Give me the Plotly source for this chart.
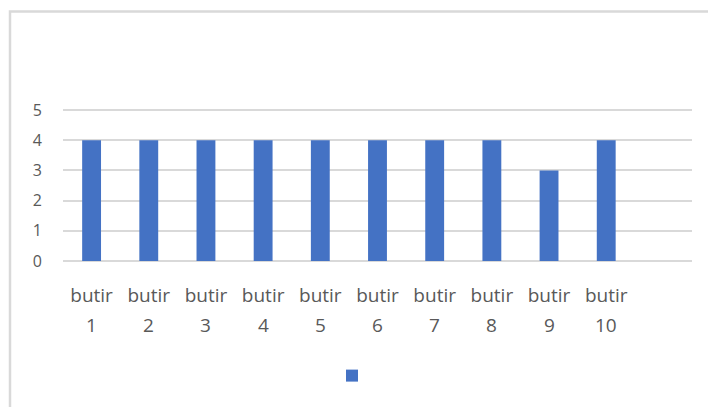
import plotly.graph_objects as go

# Item scores
categories = ["butir 1", "butir 2", "butir 3", "butir 4", "butir 5",
              "butir 6", "butir 7", "butir 8", "butir 9", "butir 10"]
scores = [4, 4, 4, 4, 4, 4, 4, 4, 3, 4]
y_ticks = [0, 1, 2, 3, 4, 5]

first_words = [c.split(" ")[0] for c in categories]
second_words = [c.split(" ")[1] for c in categories]

W, H = 708, 407
L, R, T, B = 63, 16, 108, 144
plot_w = W - L - R
plot_h = H - T - B

# small headroom so the top and bottom gridlines stay inside the plot area
pad = 2 / 30.2

def px_x(p):
    return (p - L) / plot_w

def px_y(p):
    return (H - B - p) / plot_h

text_color = "#595959"
grid_color = "#d9d9d9"
font_family = "Open Sans, Lato, DejaVu Sans, sans-serif"
label_size = 19

fig = go.Figure()
fig.add_trace(go.Bar(
    x=categories,
    y=scores,
    marker=dict(color="#4472C4", line=dict(width=0)),
    name="",
    showlegend=True,
    hoverinfo="skip",
))

# Second line of each category label, placed under the first line
for cat, word in zip(categories, second_words):
    fig.add_annotation(
        x=cat, xref="x",
        y=px_y(325), yref="paper",
        text=word,
        showarrow=False,
        xanchor="center", yanchor="middle",
        font=dict(size=label_size, color=text_color, family=font_family),
    )

fig.update_layout(
    width=W,
    height=H,
    margin=dict(l=L, r=R, t=T, b=B, autoexpand=False),
    paper_bgcolor="white",
    plot_bgcolor="white",
    bargap=0.67,
    font=dict(family=font_family, color=text_color),
    xaxis=dict(
        type="category",
        range=[-0.5, 10.5],
        tickmode="array",
        tickvals=categories,
        ticktext=first_words,
        tickfont=dict(size=label_size, color=text_color, family=font_family),
        ticklabelstandoff=19,
        showgrid=False,
        showline=False,
        ticks="",
        zeroline=False,
    ),
    yaxis=dict(
        range=[0 - pad, 5 + pad],
        tickmode="array",
        tickvals=y_ticks,
        ticktext=[str(v) for v in y_ticks],
        tickfont=dict(size=16, color=text_color, family=font_family),
        ticklabelstandoff=20,
        showgrid=True,
        gridcolor=grid_color,
        gridwidth=1.5,
        zeroline=False,
        showline=False,
        ticks="",
    ),
    legend=dict(
        orientation="h",
        x=px_x(332),
        xanchor="left",
        y=px_y(376),
        yanchor="middle",
        bgcolor="rgba(0,0,0,0)",
        font=dict(size=14, color=text_color),
    ),
    shapes=[
        dict(
            type="rect",
            xref="paper", yref="paper",
            x0=px_x(10), x1=px_x(730),
            y0=px_y(430), y1=px_y(11.5),
            line=dict(color=grid_color, width=2.5),
            fillcolor="rgba(0,0,0,0)",
            layer="below",
        )
    ],
)

fig.write_html("out.html")
